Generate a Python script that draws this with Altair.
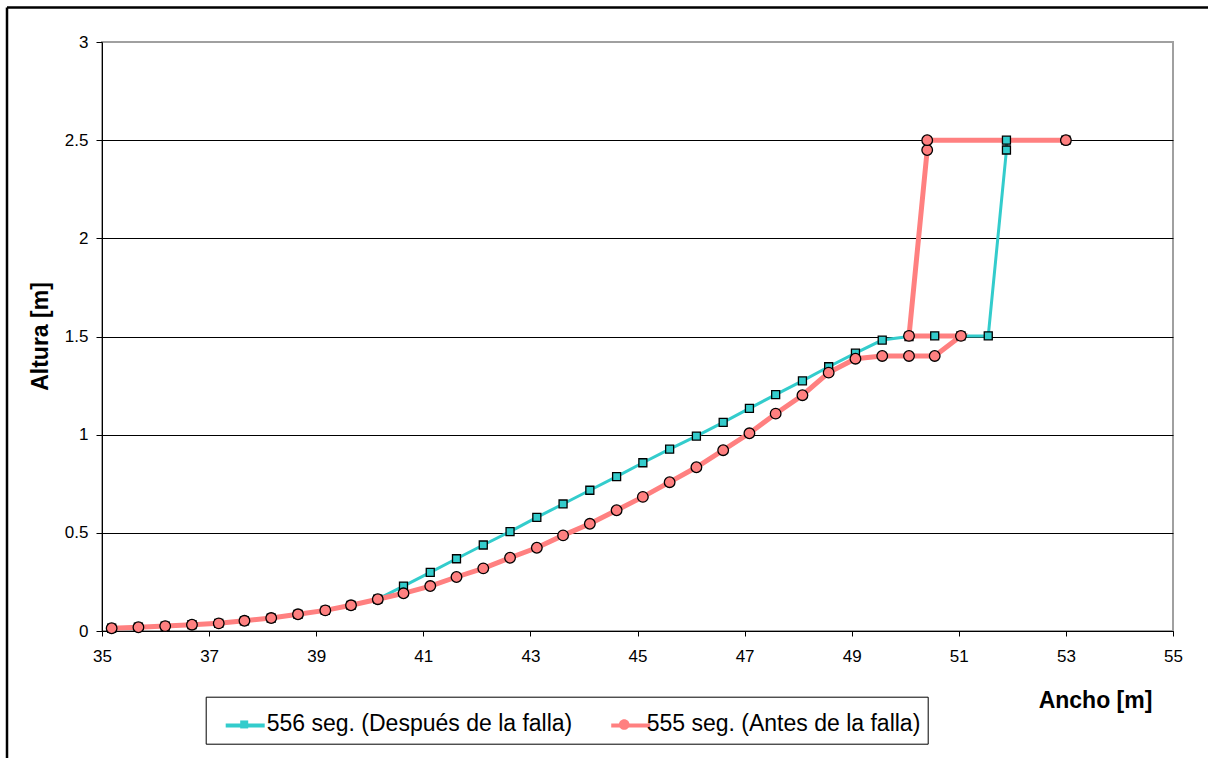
import altair as alt
import pandas as pd

serie_a = "556 seg. (Después de la falla)"
serie_b = "555 seg. (Antes de la falla)"

# 556 seg. (after failure) - in drawing order
x_a = [35.18, 35.68, 36.18, 36.68, 37.18, 37.66, 38.16, 38.66, 39.17, 39.65, 40.15,
       40.63, 41.13, 41.62, 42.12, 42.62, 43.12, 43.61, 44.11, 44.61, 45.10, 45.60,
       46.10, 46.60, 47.09, 47.58, 48.08, 48.57, 49.07, 49.57, 50.07, 50.55, 51.04,
       51.55, 51.89, 51.89, 53.00]
y_a = [0.014, 0.019, 0.025, 0.032, 0.039, 0.052, 0.066, 0.085, 0.105, 0.131, 0.162,
       0.229, 0.299, 0.368, 0.438, 0.506, 0.579, 0.647, 0.717, 0.786, 0.857, 0.926,
       0.993, 1.063, 1.134, 1.204, 1.274, 1.346, 1.415, 1.482, 1.500, 1.503, 1.503,
       1.503, 2.450, 2.500, 2.500]

# 555 seg. (before failure) - in drawing order
x_b = [35.18, 35.68, 36.18, 36.68, 37.18, 37.66, 38.16, 38.66, 39.17, 39.65, 40.15,
       40.63, 41.13, 41.62, 42.12, 42.62, 43.12, 43.61, 44.11, 44.61, 45.10, 45.60,
       46.10, 46.60, 47.09, 47.58, 48.08, 48.57, 49.07, 49.57, 50.07, 50.55, 51.04,
       50.07, 50.41, 50.41, 53.00]
y_b = [0.014, 0.019, 0.025, 0.032, 0.039, 0.052, 0.066, 0.085, 0.105, 0.131, 0.162,
       0.192, 0.229, 0.275, 0.319, 0.373, 0.424, 0.487, 0.546, 0.615, 0.683, 0.758,
       0.834, 0.921, 1.007, 1.107, 1.201, 1.316, 1.387, 1.401, 1.401, 1.401, 1.503,
       1.503, 2.450, 2.500, 2.500]

x_ticks = [35, 37, 39, 41, 43, 45, 47, 49, 51, 53, 55]
y_ticks = [0, 0.5, 1, 1.5, 2, 2.5, 3]

series = [serie_a, serie_b]
colors = ["#33CCCC", "#FF8080"]
widths = [3, 5]
# custom symbols (invisible move points keep equal bounds with the legend line)
square_path = "M-1,0M1,0M-0.205,-0.205H0.205V0.205H-0.205Z"
circle_path = "M-1,0M1,0M-0.272,0A0.272,0.272,0,1,0,0.272,0A0.272,0.272,0,1,0,-0.272,0Z"
shapes = [square_path, circle_path]

rows = []
for i, (xv, yv) in enumerate(zip(x_a, y_a)):
    rows.append({"ancho": xv, "altura": yv, "serie": serie_a, "serie_p": serie_a, "orden": i})
for i, (xv, yv) in enumerate(zip(x_b, y_b)):
    rows.append({"ancho": xv, "altura": yv, "serie": serie_b, "serie_p": serie_b, "orden": i})
df = pd.DataFrame(rows)

FONT = "Liberation Sans"
SYM = 1521
LEG_X = 103.7
LEG_Y = 654.7
LEG_FONT = 23
LEG_GAP = 20
# width of the first legend label (Arial/Liberation metrics: 13.284 em)
first_label_w = 13.284 * LEG_FONT

x_enc = alt.X("ancho:Q",
              scale=alt.Scale(domain=[35, 55], nice=False, zero=False),
              axis=alt.Axis(values=x_ticks, title="Ancho [m]", grid=False,
                            tickSize=5, tickColor="black", domainColor="black",
                            labelFont=FONT, labelFontSize=17, labelColor="black",
                            labelPadding=12, labelFlush=False,
                            titleFont=FONT, titleFontSize=23, titleFontWeight="bold",
                            titleColor="black", titleX=993, titleY=69,
                            titleAlign="center", titleBaseline="middle"))
y_enc = alt.Y("altura:Q",
              scale=alt.Scale(domain=[0, 3], nice=False),
              axis=alt.Axis(values=y_ticks, format="~g", title="Altura [m]", grid=True,
                            gridColor={"condition": {"test": "datum.value === 3", "value": "#a0a0a0"},
                                       "value": "black"},
                            gridWidth=1,
                            tickSize=6, tickColor="black", domainColor="black",
                            labelFont=FONT, labelFontSize=17, labelColor="black",
                            labelPadding=8, labelFlush=False,
                            titleFont=FONT, titleFontSize=23, titleFontWeight="bold",
                            titleColor="black", titleX=-62, titleY=294, titleAngle=270,
                            titleAlign="center", titleBaseline="middle"))

common_leg = dict(orient="none", legendX=LEG_X, legendY=LEG_Y, direction="horizontal",
                  title=None, symbolSize=SYM, labelFont=FONT, labelFontSize=LEG_FONT,
                  labelColor="black", labelLimit=500, padding=7,
                  symbolOffset=11, labelOffset=2)

# legend of the line segments (no labels; spaced to line up with the marker legend)
leg_line = alt.Legend(symbolType="M-1,0H1", symbolStrokeWidth=4, labelExpr="''",
                      columnPadding=LEG_GAP + first_label_w, **common_leg)

lines = alt.Chart(df).mark_line().encode(
    x=x_enc, y=y_enc,
    order="orden:Q",
    stroke=alt.Stroke("serie:N", sort=series, scale=alt.Scale(range=colors),
                      legend=leg_line),
    strokeWidth=alt.StrokeWidth("serie:N", sort=series, scale=alt.Scale(range=widths),
                                legend=None),
)

# legend of the markers with the labels and the frame
leg_mark = alt.Legend(symbolStrokeColor="black", symbolStrokeWidth=1.3,
                      strokeColor="black", columnPadding=LEG_GAP, **common_leg)
points = alt.Chart(df).mark_point(filled=True, size=SYM, stroke="black",
                                  strokeWidth=1.3, opacity=1).encode(
    x=x_enc, y=y_enc,
    stroke=alt.value("black"),
    fill=alt.Fill("serie_p:N", scale=alt.Scale(domain=series, range=colors), legend=leg_mark),
    shape=alt.Shape("serie_p:N", scale=alt.Scale(domain=series, range=shapes), legend=leg_mark),
)

frame_df = pd.DataFrame({"k": [0]})
frame_top = alt.Chart(frame_df).mark_rule(color="black", strokeWidth=2.5).encode(
    x=alt.value(-95), x2=alt.value(1110), y=alt.value(-34.5))
frame_left = alt.Chart(frame_df).mark_rule(color="black", strokeWidth=2.5).encode(
    x=alt.value(-95), y=alt.value(-34.5), y2=alt.value(720))

chart = alt.layer(lines, points, frame_top, frame_left).properties(
    width=1071, height=589,
    autosize=alt.AutoSizeParams(type="none"),
    padding={"left": 102, "top": 42, "right": 35, "bottom": 127},
    background="white",
).configure_view(stroke="#a0a0a0", strokeWidth=2)

chart.save("out.html", embed_options={"renderer": "svg", "actions": False})
